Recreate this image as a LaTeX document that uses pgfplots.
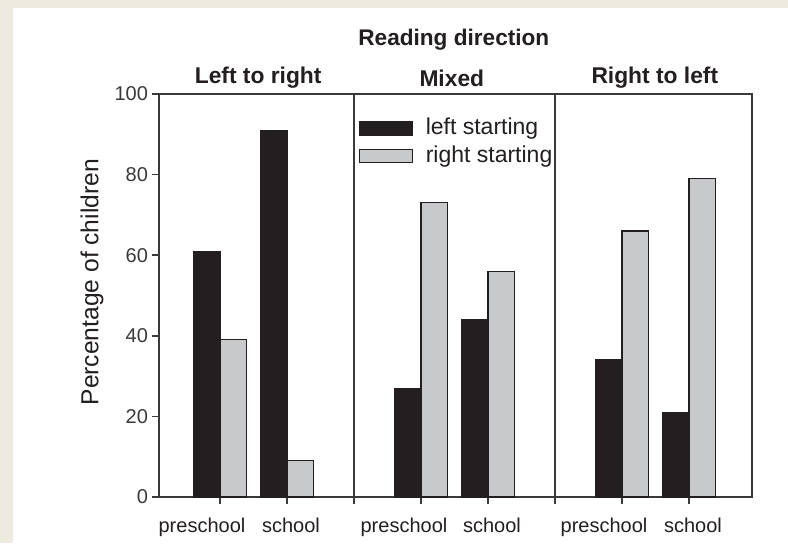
\documentclass[border=0pt]{standalone}
\usepackage{pgfplots}
\pgfplotsset{compat=1.18}
\usepackage{fontspec}
\setmainfont{Liberation Sans}
\definecolor{bgbeige}{HTML}{EDEBE0}
\definecolor{barblack}{HTML}{231F20}
\definecolor{bargrey}{HTML}{C8C9CB}
\definecolor{axisgrey}{HTML}{3A3A3A}

\begin{document}
\begin{tikzpicture}
% page: 788 x 543 px at 0.5pt per px, axis box south west corner at (0,0)
\fill[bgbeige] (-79.5pt,-23pt) rectangle (314.5pt,248.5pt);
\fill[white] (-73pt,-23pt) rectangle (314.5pt,244.5pt);
\useasboundingbox (-79.5pt,-23pt) rectangle (314.5pt,248.5pt);
\begin{axis}[
    at={(0pt,0pt)}, anchor=south west,
    scale only axis, width=296.5pt, height=201.5pt,
    xmin=0.09, xmax=8.94, ymin=0, ymax=100,
    clip=false,
    axis line style={axisgrey, line width=0.8pt},
    every tick/.style={axisgrey, line width=0.8pt},
    tick align=outside, major tick length=3.5pt,
    xtick pos=left, ytick pos=left,
    ytick={0,20,40,60,80,100},
    /pgf/number format/assume math mode=true,
    yticklabel style={font=\fontsize{10}{12}\selectfont, text=axisgrey, xshift=1.5pt},
    xtick={1,2,4,5,7,8},
    xticklabels={{\hspace*{-18pt}preschool},{\hspace*{4pt}school},
                 {\hspace*{-17pt}preschool},{\hspace*{4pt}school},
                 {\hspace*{-18pt}preschool},{\hspace*{4pt}school}},
    xticklabel style={font=\fontsize{10}{12}\selectfont, text=barblack, yshift=-3.5pt},
    extra x ticks={3,6}, extra x tick labels={},
    extra x tick style={grid=major, major grid style={axisgrey, line width=0.8pt}},
    ylabel={Percentage of children},
    ylabel style={font=\fontsize{12.3}{14}\selectfont, text=barblack,
                  at={(axis description cs:-0.113,0.533)}, anchor=center},
    legend style={at={(axis cs:3.07,94.9)}, anchor=north west,
                  draw=none, fill=none, inner sep=0pt,
                  font=\fontsize{11.5}{13}\selectfont, text=barblack,
                  nodes={inner sep=1.25pt, text height=8.5pt, text depth=2.5pt},
                  row sep=0.3pt, column sep=5pt},
    legend cell align=left,
]
\addplot[ybar, bar width=0.4, bar shift=-0.2, fill=barblack, draw=barblack, line width=0.6pt,
    legend image code/.code={\draw[fill=barblack, draw=barblack, line width=0.6pt] (0pt,-3.5pt) rectangle (26.5pt,3.5pt);}]
    coordinates {(1,61) (2,91) (4,27) (5,44) (7,34) (8,21)};
\addplot[ybar, bar width=0.4, bar shift=0.2, fill=bargrey, draw=barblack, line width=0.6pt,
    legend image code/.code={\draw[fill=bargrey, draw=barblack, line width=0.6pt] (0pt,-3.3pt) rectangle (26.5pt,3.3pt);}]
    coordinates {(1,39) (2,9) (4,73) (5,56) (7,66) (8,79)};
\legend{left starting, right starting}

\node[font=\bfseries\fontsize{11.3}{13}\selectfont, text=barblack] at (axis cs:4.49,113.4) {Reading direction};
\node[font=\bfseries\fontsize{11.4}{13}\selectfont, text=barblack] at (axis cs:1.57,104.0) {Left to right};
\node[font=\bfseries\fontsize{11.4}{13}\selectfont, text=barblack] at (axis cs:4.46,104.0) {Mixed};
\node[font=\bfseries\fontsize{11.4}{13}\selectfont, text=barblack] at (axis cs:7.49,104.0) {Right to left};
\end{axis}
\end{tikzpicture}
\end{document}
